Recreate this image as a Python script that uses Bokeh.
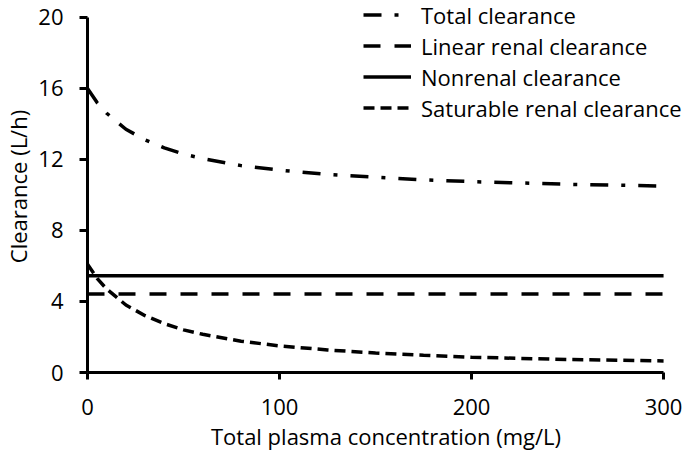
from bokeh.plotting import figure
from bokeh.models import Legend, LegendItem, FixedTicker, Range1d
from bokeh.embed import file_html
from bokeh.resources import INLINE

# Data
conc = [0, 5, 10, 20, 30, 40, 50, 60, 80, 100, 125, 150, 175, 200, 250, 300]
total_cl = [16.0, 15.2, 14.6, 13.7, 13.1, 12.65, 12.3, 12.05, 11.65, 11.4,
            11.15, 11.0, 10.85, 10.75, 10.6, 10.5]
saturable_cl = [6.1, 5.3, 4.7, 3.8, 3.2, 2.75, 2.4, 2.15, 1.76, 1.5,
                1.27, 1.1, 0.97, 0.86, 0.73, 0.65]
nonrenal_x = [0, 300]
nonrenal_cl = [5.45, 5.45]
linear_x = [0, 300]
linear_cl = [4.42, 4.42]

x_ticks = [0, 100, 200, 300]
y_ticks = [0, 4, 8, 12, 16, 20]

FONT = "Open Sans"
FS = "22px"

# Ranges extend a little past the axes (axis lines bounded to the data extent)
# so that the in-frame legend has room, as in the reference.
p = figure(width=684, height=453, output_backend="svg", toolbar_location=None,
           x_range=Range1d(0, 310.9), y_range=Range1d(0, 20.95),
           min_border_left=86, min_border_right=0, min_border_top=0,
           min_border_bottom=77)
p.outline_line_color = None
p.xgrid.grid_line_color = None
p.ygrid.grid_line_color = None
p.background_fill_color = "white"
p.border_fill_color = "white"

lw = 3.5
r_total = p.line(conc, total_cl, line_color="black", line_width=lw, line_dash="18 13 4 13")
r_linear = p.line(linear_x, linear_cl, line_color="black", line_width=lw, line_dash="17 14")
r_nonrenal = p.line(nonrenal_x, nonrenal_cl, line_color="black", line_width=lw)
r_sat = p.line(conc, saturable_cl, line_color="black", line_width=lw, line_dash="11 6")

for ax in (p.xaxis[0], p.yaxis[0]):
    ax.axis_line_width = 3
    ax.axis_line_color = "black"
    ax.major_tick_line_width = 3
    ax.major_tick_line_color = "black"
    ax.major_tick_in = 0
    ax.minor_tick_line_color = None
    ax.major_label_text_font = FONT
    ax.major_label_text_font_size = FS
    ax.major_label_text_color = "black"
    ax.axis_label_text_font = FONT
    ax.axis_label_text_font_size = FS
    ax.axis_label_text_font_style = "normal"
    ax.axis_label_text_color = "black"

p.xaxis.bounds = (0, 300)
p.yaxis.bounds = (0, 20)
p.xaxis.ticker = FixedTicker(ticks=x_ticks)
p.yaxis.ticker = FixedTicker(ticks=y_ticks)
p.xaxis.major_tick_out = 7
p.yaxis.major_tick_out = 8
p.xaxis.major_label_standoff = 19
p.yaxis.major_label_standoff = 16
p.xaxis.axis_label = "Total plasma concentration (mg/L)"
p.yaxis.axis_label = "Clearance (L/h)"
p.xaxis.axis_label_standoff = 3
p.yaxis.axis_label_standoff = 2

legend = Legend(items=[
    LegendItem(label="Total clearance", renderers=[r_total]),
    LegendItem(label="Linear renal clearance", renderers=[r_linear]),
    LegendItem(label="Nonrenal clearance", renderers=[r_nonrenal]),
    LegendItem(label="Saturable renal clearance", renderers=[r_sat]),
], location=(276, 249))
legend.border_line_alpha = 0
legend.background_fill_alpha = 0
legend.padding = 0
legend.margin = 0
legend.spacing = 0
legend.glyph_width = 48
legend.glyph_height = 31
legend.label_height = 31
legend.label_standoff = 10
legend.label_text_font = FONT
legend.label_text_font_size = FS
legend.label_text_color = "black"
p.add_layout(legend, "center")

open("out.html", "w").write(file_html(p, INLINE))
